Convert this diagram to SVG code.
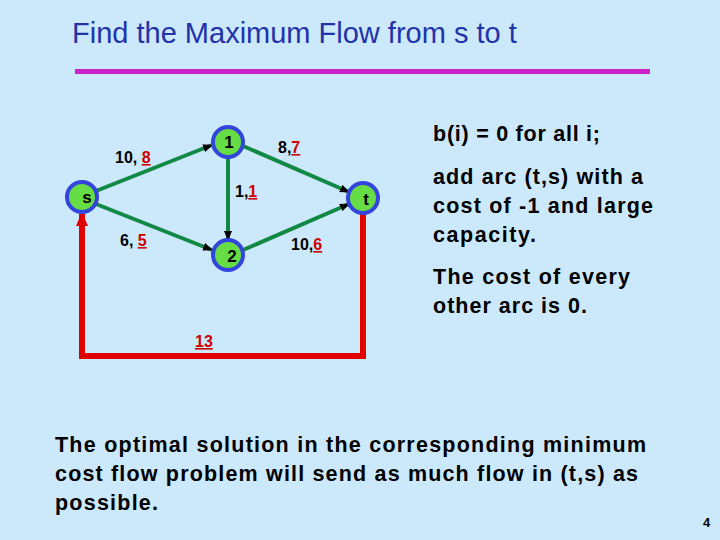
<svg xmlns="http://www.w3.org/2000/svg" width="720" height="540" viewBox="0 0 720 540">
<defs>
<marker id="ab" markerWidth="10" markerHeight="8" refX="9" refY="4" orient="auto" markerUnits="userSpaceOnUse"><path d="M0,0 L10,4 L0,8 Z" fill="#000"/></marker>
<marker id="ar" markerWidth="14" markerHeight="12" refX="12" refY="6" orient="auto" markerUnits="userSpaceOnUse"><path d="M0,0 L14,6 L0,12 Z" fill="#e00000"/></marker>
</defs>
<style>
text{font-family:"Liberation Sans",Arial,sans-serif;font-weight:bold}
.n circle{fill:#66dd44;stroke:#3344dd;stroke-width:4}
.n text{font-size:17px;fill:#000;text-anchor:middle}
.e{stroke:#118844;stroke-width:4;fill:none}
.lb{font-size:16px;fill:#000}
.r{fill:#cc0000;text-decoration:underline}
.body{font-size:21.5px;fill:#000;font-weight:bold}
</style>
<rect width="720" height="540" fill="#cce8fb"/>
<text x="72" y="43" font-size="29" fill="#2233aa" style="font-weight:normal">Find the Maximum Flow from s to t</text>
<rect x="75" y="69" width="575" height="5" fill="#cc22cc"/>
<g id="connectors">
<line class="e" x1="96" y1="191" x2="212" y2="145" marker-end="url(#ab)"/>
<line class="e" x1="96" y1="204" x2="212" y2="250" marker-end="url(#ab)"/>
<line class="e" x1="243" y1="146" x2="349" y2="192" marker-end="url(#ab)"/>
<line class="e" x1="243" y1="250" x2="349" y2="204" marker-end="url(#ab)"/>
<line class="e" x1="228" y1="157" x2="228" y2="240" marker-end="url(#ab)"/>
<polyline points="363,213 363,356 82,356 82,214" fill="none" stroke="#e00000" stroke-width="6" marker-end="url(#ar)"/>
<text class="lb" x="115" y="163">10, <tspan class="r">8</tspan></text>
<text class="lb" x="278" y="153">8,<tspan class="r">7</tspan></text>
<text class="lb" x="235" y="197">1,<tspan class="r">1</tspan></text>
<text class="lb" x="120" y="246">6, <tspan class="r">5</tspan></text>
<text class="lb" x="291" y="250">10,<tspan class="r">6</tspan></text>
<text class="lb r" x="195" y="347">13</text>
</g>
<g id="node-s" class="n"><circle cx="82" cy="197" r="15"/><text x="87" y="203">s</text></g>
<g id="node-1" class="n"><circle cx="228" cy="142" r="15"/><text x="229" y="148">1</text></g>
<g id="node-2" class="n"><circle cx="228" cy="255" r="15"/><text x="232" y="262">2</text></g>
<g id="node-t" class="n"><circle cx="363" cy="198" r="15"/><text x="366" y="205">t</text></g>
<text class="body" x="433" y="141" textLength="167">b(i) = 0 for all i;</text>
<text class="body" x="433" y="184" textLength="210">add arc (t,s) with a</text>
<text class="body" x="433" y="213" textLength="220">cost of -1 and large</text>
<text class="body" x="433" y="242" textLength="103">capacity.</text>
<text class="body" x="433" y="284" textLength="197">The cost of every</text>
<text class="body" x="433" y="313" textLength="154">other arc is 0.</text>
<text class="body" x="55" y="452" textLength="591">The optimal solution in the corresponding minimum</text>
<text class="body" x="55" y="481" textLength="583">cost flow problem will send as much flow in (t,s) as</text>
<text class="body" x="55" y="510" textLength="103">possible.</text>
<text x="703" y="527" font-size="13" fill="#000">4</text>
</svg>
